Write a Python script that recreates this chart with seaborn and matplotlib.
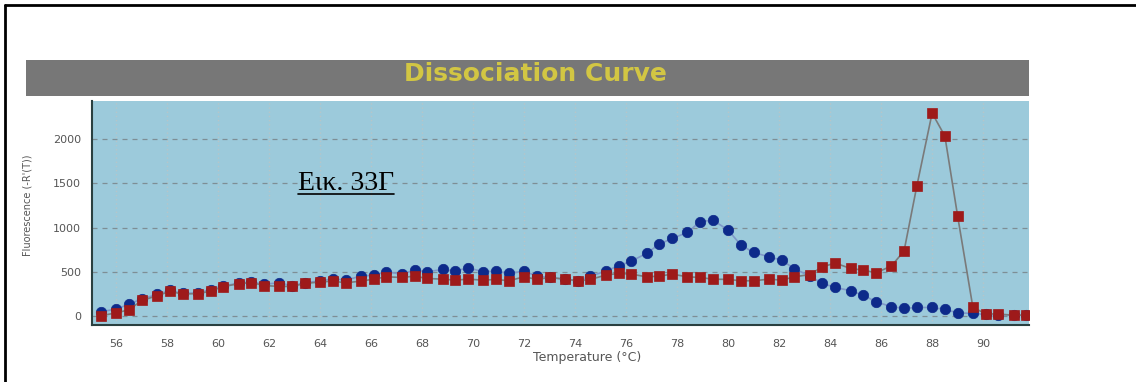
import numpy as np
import pandas as pd
import matplotlib
matplotlib.use("Agg")
import matplotlib.pyplot as plt
import seaborn as sns
from matplotlib.lines import Line2D
from matplotlib.ticker import MultipleLocator

# Temperature of each reading (°C)
temperature = [55.4, 56.0, 56.5, 57.0, 57.6, 58.1, 58.6, 59.2, 59.7, 60.2,
               60.8, 61.3, 61.8, 62.4, 62.9, 63.4, 64.0, 64.5, 65.0, 65.6,
               66.1, 66.6, 67.2, 67.7, 68.2, 68.8, 69.3, 69.8, 70.4, 70.9,
               71.4, 72.0, 72.5, 73.0, 73.6, 74.1, 74.6, 75.2, 75.7, 76.2,
               76.8, 77.3, 77.8, 78.4, 78.9, 79.4, 80.0, 80.5, 81.0, 81.6,
               82.1, 82.6, 83.2, 83.7, 84.2, 84.8, 85.3, 85.8, 86.4, 86.9,
               87.4, 88.0, 88.5, 89.0, 89.6, 90.1, 90.6, 91.2, 91.7]

# -R'(T) for the two wells
blue_curve = [50, 80, 135, 195, 245, 290, 258, 262, 300, 342,
              372, 386, 362, 376, 342, 378, 398, 422, 407, 452,
              464, 501, 475, 520, 501, 528, 509, 547, 501, 509,
              483, 509, 452, 437, 418, 402, 452, 509, 569, 622,
              709, 814, 878, 946, 1067, 1086, 973, 803, 720, 671,
              633, 535, 455, 370, 324, 288, 237, 162, 108, 87,
              98, 98, 76, 38, 30, 20, 15, 12, 10]

red_curve = [5, 37, 72, 177, 230, 280, 250, 255, 282, 335,
             366, 380, 346, 336, 336, 370, 386, 396, 377, 396,
             418, 445, 437, 452, 426, 418, 407, 418, 407, 415,
             400, 445, 415, 437, 418, 400, 415, 464, 483, 475,
             445, 452, 475, 445, 437, 418, 415, 400, 400, 418,
             407, 445, 470, 558, 600, 539, 520, 490, 566, 737,
             1470, 2295, 2036, 1133, 98, 28, 23, 11, 11]

x_ticks = list(range(56, 92, 2))
y_ticks = [0, 500, 1000, 1500, 2000]

sns.set_theme(style="white")
plt.rcParams['font.family'] = ['DejaVu Sans']

W, H = 1136, 382
fig = plt.figure(figsize=(W / 100, H / 100), dpi=100)
fig.patch.set_facecolor('white')

# grey title strip
bar = fig.add_axes([26 / W, 1 - 96 / H, (1029 - 26) / W, 36 / H])
bar.set_facecolor('#777777')
bar.set_xticks([])
bar.set_yticks([])
for s in bar.spines.values():
    s.set_visible(False)
bar.text(0.508, 0.6, "Dissociation Curve", transform=bar.transAxes,
         ha='center', va='center', fontsize=18, fontweight='bold',
         color='#d2c643')

# plot area
ax = fig.add_axes([92 / W, 1 - 325 / H, (1029 - 92) / W, (325 - 101) / H])
ax.set_facecolor('#9ccadb')

df = pd.DataFrame({'Temperature': temperature,
                   'blue': blue_curve,
                   'red': red_curve})

sns.lineplot(data=df, x='Temperature', y='blue', ax=ax, color='#7f98c8',
             lw=1.2, marker='o', markersize=7.5, markerfacecolor='#0d2a8a',
             markeredgecolor='#0d2a8a', markeredgewidth=0.5, zorder=3)
sns.lineplot(data=df, x='Temperature', y='red', ax=ax, color='#7a7a7a',
             lw=1.2, marker='s', markersize=7, markerfacecolor='#9e1a1a',
             markeredgecolor='#9e1a1a', markeredgewidth=0.5, zorder=4)

ax.set_xlim(55.05, 91.8)
ax.set_ylim(-100, 2432)
ax.set_xticks(x_ticks)
ax.set_yticks(y_ticks)
ax.xaxis.set_minor_locator(MultipleLocator(1))
ax.yaxis.set_minor_locator(MultipleLocator(250))

ax.grid(axis='x', which='major', linestyle=(0, (1, 2)), color='#b7c5c8', lw=1)
ax.grid(axis='y', which='major', linestyle=(0, (4, 4)), color='#7e8e95', lw=0.9)

for side in ['top', 'right']:
    ax.spines[side].set_visible(False)
for side in ['left', 'bottom']:
    ax.spines[side].set_color('#2a4040')
    ax.spines[side].set_linewidth(1.5)

ax.tick_params(which='both', direction='inout', color='#2a4040', width=1)
ax.tick_params(which='major', length=6, labelsize=8, labelcolor='#555555')
ax.tick_params(which='minor', length=5)
ax.tick_params(axis='x', which='major', pad=7)
ax.tick_params(axis='y', which='major', pad=5)

ax.set_xlabel("Temperature (°C)", fontsize=9, color='#555555')
ax.set_ylabel("Fluorescence (-R'(T))", fontsize=7, color='#555555')
ax.xaxis.set_label_coords(0.528, -0.115)
ax.yaxis.set_label_coords(-0.063, 0.536)

# figure caption inside the plot
cap = fig.text(298 / W, 1 - 190 / H, "Εικ. 33Γ", fontsize=20,
               family=['Liberation Serif', 'DejaVu Serif'], color='black',
               ha='left', va='baseline', zorder=10)
fig.canvas.draw()
bb = cap.get_window_extent().transformed(fig.transFigure.inverted())
fig.add_artist(Line2D([bb.x0, bb.x1], [1 - 194 / H, 1 - 194 / H],
                      transform=fig.transFigure, color='black', lw=1.2))

# page frame (left and top edges)
fig.add_artist(Line2D([5 / W, 5 / W], [0, 1 - 5 / H], transform=fig.transFigure,
                      color='black', lw=2))
fig.add_artist(Line2D([5 / W, 1], [1 - 5 / H, 1 - 5 / H], transform=fig.transFigure,
                      color='black', lw=2))

fig.savefig('out.png', dpi=100)
